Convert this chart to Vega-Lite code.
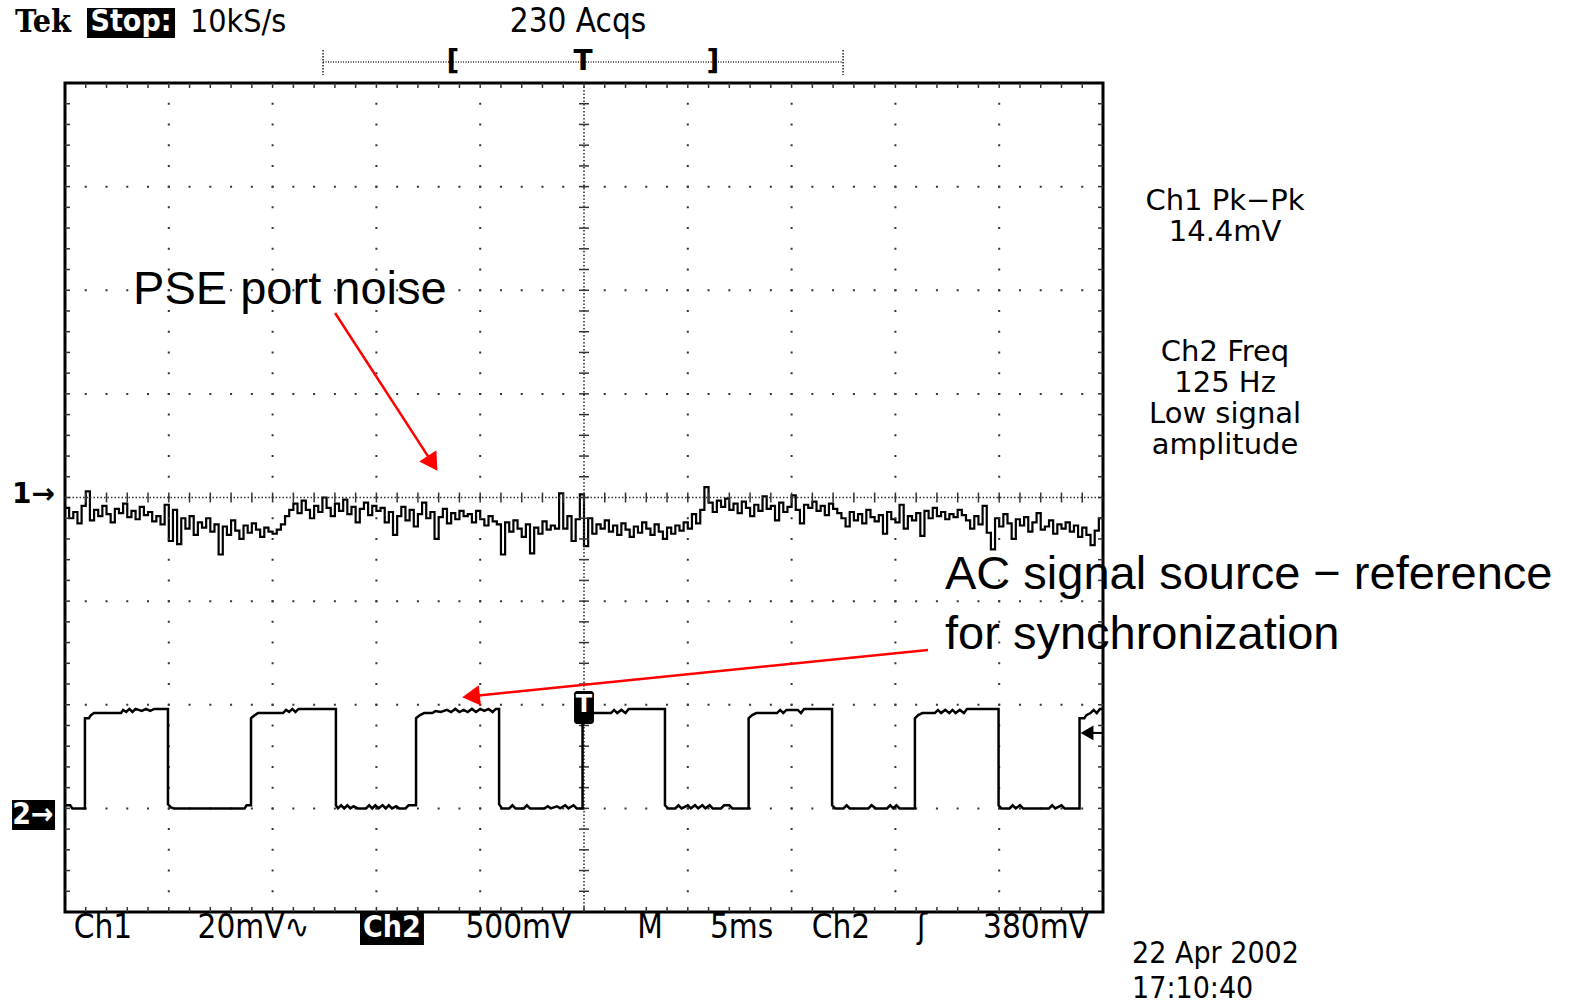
{
"$schema": "https://vega.github.io/schema/vega-lite/v6.json",
"width": 1038, "height": 829,
"autosize": "none",
"padding": {"left": 65, "top": 83, "right": 467, "bottom": 92},
"background": "white",
"config": {"view": {"stroke": "#000", "strokeWidth": 3}},
"datasets": {
"ch1": [
{"t":-25.0,"v":-0.10},{"t":-24.8,"v":-0.20},{"t":-24.6,"v":-0.14},{"t":-24.4,"v":-0.25},{"t":-24.2,"v":-0.08},{"t":-24.0,"v":0.06},{"t":-23.8,"v":-0.22},{"t":-23.6,"v":-0.12},{"t":-23.4,"v":-0.18},{"t":-23.2,"v":-0.08},
{"t":-23.0,"v":-0.16},{"t":-22.8,"v":-0.24},{"t":-22.6,"v":-0.11},{"t":-22.4,"v":-0.15},{"t":-22.2,"v":-0.06},{"t":-22.0,"v":-0.19},{"t":-21.8,"v":-0.13},{"t":-21.6,"v":-0.21},{"t":-21.4,"v":-0.09},{"t":-21.2,"v":-0.17},
{"t":-21.0,"v":-0.14},{"t":-20.8,"v":-0.23},{"t":-20.6,"v":-0.18},{"t":-20.4,"v":-0.26},{"t":-20.2,"v":-0.07},{"t":-20.0,"v":-0.42},{"t":-19.8,"v":-0.12},{"t":-19.6,"v":-0.45},{"t":-19.4,"v":-0.20},{"t":-19.2,"v":-0.30},
{"t":-19.0,"v":-0.18},{"t":-18.8,"v":-0.36},{"t":-18.6,"v":-0.24},{"t":-18.4,"v":-0.29},{"t":-18.2,"v":-0.20},{"t":-18.0,"v":-0.33},{"t":-17.8,"v":-0.26},{"t":-17.6,"v":-0.55},{"t":-17.4,"v":-0.28},{"t":-17.2,"v":-0.36},
{"t":-17.0,"v":-0.22},{"t":-16.8,"v":-0.32},{"t":-16.6,"v":-0.40},{"t":-16.4,"v":-0.27},{"t":-16.2,"v":-0.34},{"t":-16.0,"v":-0.25},{"t":-15.8,"v":-0.31},{"t":-15.6,"v":-0.38},{"t":-15.4,"v":-0.29},{"t":-15.2,"v":-0.33},
{"t":-15.0,"v":-0.35},{"t":-14.8,"v":-0.31},{"t":-14.6,"v":-0.26},{"t":-14.4,"v":-0.18},{"t":-14.2,"v":-0.12},{"t":-14.0,"v":-0.06},{"t":-13.8,"v":-0.15},{"t":-13.6,"v":-0.03},{"t":-13.4,"v":-0.12},{"t":-13.2,"v":-0.20},
{"t":-13.0,"v":-0.08},{"t":-12.8,"v":-0.14},{"t":-12.6,"v":0.00},{"t":-12.4,"v":-0.10},{"t":-12.2,"v":-0.18},{"t":-12.0,"v":-0.06},{"t":-11.8,"v":-0.13},{"t":-11.6,"v":-0.02},{"t":-11.4,"v":-0.16},{"t":-11.2,"v":-0.09},
{"t":-11.0,"v":-0.24},{"t":-10.8,"v":-0.11},{"t":-10.6,"v":-0.05},{"t":-10.4,"v":-0.17},{"t":-10.2,"v":-0.08},{"t":-10.0,"v":-0.13},{"t":-9.8,"v":-0.10},{"t":-9.6,"v":-0.24},{"t":-9.4,"v":-0.14},{"t":-9.2,"v":-0.36},
{"t":-9.0,"v":-0.18},{"t":-8.8,"v":-0.09},{"t":-8.6,"v":-0.22},{"t":-8.4,"v":-0.12},{"t":-8.2,"v":-0.28},{"t":-8.0,"v":-0.16},{"t":-7.8,"v":-0.05},{"t":-7.6,"v":-0.20},{"t":-7.4,"v":-0.14},{"t":-7.2,"v":-0.40},
{"t":-7.0,"v":-0.19},{"t":-6.8,"v":-0.11},{"t":-6.6,"v":-0.25},{"t":-6.4,"v":-0.15},{"t":-6.2,"v":-0.21},{"t":-6.0,"v":-0.13},{"t":-5.8,"v":-0.18},{"t":-5.6,"v":-0.16},{"t":-5.4,"v":-0.24},{"t":-5.2,"v":-0.13},
{"t":-5.0,"v":-0.21},{"t":-4.8,"v":-0.27},{"t":-4.6,"v":-0.18},{"t":-4.4,"v":-0.23},{"t":-4.2,"v":-0.26},{"t":-4.0,"v":-0.55},{"t":-3.8,"v":-0.24},{"t":-3.6,"v":-0.33},{"t":-3.4,"v":-0.22},{"t":-3.2,"v":-0.30},
{"t":-3.0,"v":-0.38},{"t":-2.8,"v":-0.26},{"t":-2.6,"v":-0.54},{"t":-2.4,"v":-0.29},{"t":-2.2,"v":-0.35},{"t":-2.0,"v":-0.23},{"t":-1.8,"v":-0.31},{"t":-1.6,"v":-0.27},{"t":-1.4,"v":-0.30},{"t":-1.2,"v":0.04},
{"t":-1.0,"v":-0.30},{"t":-0.8,"v":-0.18},{"t":-0.6,"v":-0.42},{"t":-0.4,"v":-0.21},{"t":-0.2,"v":0.03},{"t":0.0,"v":-0.47},{"t":0.2,"v":-0.20},{"t":0.4,"v":-0.35},{"t":0.6,"v":-0.26},{"t":0.8,"v":-0.30},
{"t":1.0,"v":-0.22},{"t":1.2,"v":-0.33},{"t":1.4,"v":-0.27},{"t":1.6,"v":-0.36},{"t":1.8,"v":-0.25},{"t":2.0,"v":-0.31},{"t":2.2,"v":-0.38},{"t":2.4,"v":-0.28},{"t":2.6,"v":-0.34},{"t":2.8,"v":-0.24},
{"t":3.0,"v":-0.30},{"t":3.2,"v":-0.36},{"t":3.4,"v":-0.26},{"t":3.6,"v":-0.33},{"t":3.8,"v":-0.40},{"t":4.0,"v":-0.29},{"t":4.2,"v":-0.35},{"t":4.4,"v":-0.27},{"t":4.6,"v":-0.32},{"t":4.8,"v":-0.24},
{"t":5.0,"v":-0.30},{"t":5.2,"v":-0.16},{"t":5.4,"v":-0.25},{"t":5.6,"v":-0.12},{"t":5.8,"v":0.10},{"t":6.0,"v":-0.05},{"t":6.2,"v":-0.14},{"t":6.4,"v":-0.03},{"t":6.6,"v":-0.09},{"t":6.8,"v":-0.01},
{"t":7.0,"v":-0.12},{"t":7.2,"v":-0.06},{"t":7.4,"v":-0.15},{"t":7.6,"v":-0.04},{"t":7.8,"v":-0.10},{"t":8.0,"v":-0.18},{"t":8.2,"v":-0.07},{"t":8.4,"v":-0.13},{"t":8.6,"v":0.01},{"t":8.8,"v":-0.11},
{"t":9.0,"v":-0.08},{"t":9.2,"v":-0.22},{"t":9.4,"v":-0.05},{"t":9.6,"v":-0.14},{"t":9.8,"v":-0.09},{"t":10.0,"v":0.02},{"t":10.2,"v":-0.12},{"t":10.4,"v":-0.25},{"t":10.6,"v":-0.07},{"t":10.8,"v":-0.10},
{"t":11.0,"v":-0.04},{"t":11.2,"v":-0.13},{"t":11.4,"v":-0.08},{"t":11.6,"v":-0.17},{"t":11.8,"v":-0.06},{"t":12.0,"v":-0.11},{"t":12.2,"v":-0.15},{"t":12.4,"v":-0.20},{"t":12.6,"v":-0.28},{"t":12.8,"v":-0.14},
{"t":13.0,"v":-0.22},{"t":13.2,"v":-0.16},{"t":13.4,"v":-0.25},{"t":13.6,"v":-0.12},{"t":13.8,"v":-0.19},{"t":14.0,"v":-0.23},{"t":14.2,"v":-0.17},{"t":14.4,"v":-0.35},{"t":14.6,"v":-0.14},{"t":14.8,"v":-0.21},
{"t":15.0,"v":-0.24},{"t":15.2,"v":-0.07},{"t":15.4,"v":-0.30},{"t":15.6,"v":-0.18},{"t":15.8,"v":-0.22},{"t":16.0,"v":-0.15},{"t":16.2,"v":-0.37},{"t":16.4,"v":-0.13},{"t":16.6,"v":-0.20},{"t":16.8,"v":-0.10},
{"t":17.0,"v":-0.18},{"t":17.2,"v":-0.14},{"t":17.4,"v":-0.21},{"t":17.6,"v":-0.16},{"t":17.8,"v":-0.19},{"t":18.0,"v":-0.12},{"t":18.2,"v":-0.17},{"t":18.4,"v":-0.22},{"t":18.6,"v":-0.30},{"t":18.8,"v":-0.18},
{"t":19.0,"v":-0.26},{"t":19.2,"v":-0.08},{"t":19.4,"v":-0.34},{"t":19.6,"v":-0.50},{"t":19.8,"v":-0.20},{"t":20.0,"v":-0.28},{"t":20.2,"v":-0.16},{"t":20.4,"v":-0.25},{"t":20.6,"v":-0.40},{"t":20.8,"v":-0.21},
{"t":21.0,"v":-0.27},{"t":21.2,"v":-0.19},{"t":21.4,"v":-0.33},{"t":21.6,"v":-0.24},{"t":21.8,"v":-0.15},{"t":22.0,"v":-0.31},{"t":22.2,"v":-0.28},{"t":22.4,"v":-0.22},{"t":22.6,"v":-0.35},{"t":22.8,"v":-0.26},
{"t":23.0,"v":-0.30},{"t":23.2,"v":-0.24},{"t":23.4,"v":-0.33},{"t":23.6,"v":-0.27},{"t":23.8,"v":-0.38},{"t":24.0,"v":-0.29},{"t":24.2,"v":-0.36},{"t":24.4,"v":-0.46},{"t":24.6,"v":-0.32},{"t":24.8,"v":-0.20},
{"t":25.0,"v":0.06}
],
"ch2": [
{"t":-25.0,"v":-2.97},{"t":-24.75,"v":-2.97},{"t":-24.65,"v":-3.0},{"t":-24.04,"v":-3.0},
{"t":-24.04,"v":-2.13},{"t":-23.85,"v":-2.13},{"t":-23.75,"v":-2.10},{"t":-23.6,"v":-2.08},{"t":-22.3,"v":-2.08},{"t":-22.2,"v":-2.05},{"t":-22.05,"v":-2.07},{"t":-21.9,"v":-2.04},{"t":-21.75,"v":-2.07},{"t":-21.6,"v":-2.04},{"t":-21.3,"v":-2.06},{"t":-21.1,"v":-2.04},{"t":-20.9,"v":-2.06},{"t":-20.7,"v":-2.04},{"t":-20.04,"v":-2.04},
{"t":-20.04,"v":-2.96},{"t":-19.9,"v":-2.99},{"t":-19.75,"v":-3.0},{"t":-16.35,"v":-3.0},{"t":-16.25,"v":-2.97},{"t":-16.04,"v":-2.97},
{"t":-16.04,"v":-2.13},{"t":-15.85,"v":-2.10},{"t":-15.7,"v":-2.08},{"t":-14.5,"v":-2.08},{"t":-14.35,"v":-2.05},{"t":-14.2,"v":-2.07},{"t":-14.05,"v":-2.04},{"t":-13.9,"v":-2.07},{"t":-13.75,"v":-2.04},{"t":-11.95,"v":-2.04},
{"t":-11.95,"v":-2.97},{"t":-11.85,"v":-3.0},{"t":-11.7,"v":-2.97},{"t":-11.55,"v":-3.0},{"t":-11.4,"v":-2.97},{"t":-11.25,"v":-3.0},{"t":-11.1,"v":-2.98},{"t":-10.9,"v":-3.0},{"t":-10.5,"v":-3.0},{"t":-10.35,"v":-2.97},{"t":-10.2,"v":-3.0},{"t":-10.05,"v":-2.97},{"t":-9.9,"v":-3.0},{"t":-9.7,"v":-2.97},{"t":-9.55,"v":-3.0},{"t":-9.4,"v":-2.97},{"t":-9.25,"v":-3.0},{"t":-9.05,"v":-2.98},{"t":-8.9,"v":-3.0},{"t":-8.6,"v":-3.0},{"t":-8.45,"v":-2.97},{"t":-8.09,"v":-2.97},
{"t":-8.09,"v":-2.13},{"t":-7.9,"v":-2.10},{"t":-7.7,"v":-2.08},{"t":-7.3,"v":-2.08},{"t":-7.15,"v":-2.06},{"t":-6.9,"v":-2.07},{"t":-6.6,"v":-2.05},{"t":-6.4,"v":-2.07},{"t":-6.2,"v":-2.04},{"t":-6.0,"v":-2.07},{"t":-5.8,"v":-2.05},{"t":-5.6,"v":-2.07},{"t":-5.4,"v":-2.04},{"t":-5.2,"v":-2.07},{"t":-5.0,"v":-2.04},{"t":-4.8,"v":-2.06},{"t":-4.6,"v":-2.04},{"t":-4.4,"v":-2.07},{"t":-4.25,"v":-2.04},{"t":-4.09,"v":-2.04},
{"t":-4.09,"v":-2.96},{"t":-3.95,"v":-3.0},{"t":-3.6,"v":-3.0},{"t":-3.45,"v":-2.97},{"t":-3.3,"v":-3.0},{"t":-2.9,"v":-3.0},{"t":-2.75,"v":-2.97},{"t":-2.6,"v":-3.0},{"t":-1.9,"v":-3.0},{"t":-1.75,"v":-2.98},{"t":-1.6,"v":-3.0},{"t":-1.3,"v":-2.98},{"t":-1.15,"v":-3.0},{"t":-0.9,"v":-2.97},{"t":-0.75,"v":-3.0},{"t":-0.5,"v":-2.97},{"t":-0.35,"v":-3.0},{"t":-0.07,"v":-3.0},
{"t":-0.07,"v":-2.10},{"t":0.3,"v":-2.10},{"t":0.45,"v":-2.08},{"t":1.3,"v":-2.08},{"t":1.45,"v":-2.05},{"t":1.6,"v":-2.08},{"t":1.8,"v":-2.05},{"t":2.0,"v":-2.08},{"t":2.15,"v":-2.04},{"t":3.9,"v":-2.04},
{"t":3.9,"v":-2.97},{"t":4.05,"v":-3.0},{"t":4.4,"v":-3.0},{"t":4.55,"v":-2.97},{"t":4.7,"v":-3.0},{"t":5.0,"v":-2.97},{"t":5.15,"v":-3.0},{"t":5.35,"v":-2.97},{"t":5.5,"v":-3.0},{"t":5.7,"v":-2.97},{"t":5.85,"v":-3.0},{"t":6.05,"v":-2.97},{"t":6.2,"v":-3.0},{"t":6.6,"v":-3.0},{"t":6.75,"v":-2.97},{"t":7.0,"v":-2.97},{"t":7.15,"v":-3.0},{"t":7.93,"v":-3.0},
{"t":7.93,"v":-2.13},{"t":8.1,"v":-2.10},{"t":8.3,"v":-2.08},{"t":9.3,"v":-2.08},{"t":9.45,"v":-2.05},{"t":9.6,"v":-2.08},{"t":9.75,"v":-2.05},{"t":10.3,"v":-2.05},{"t":10.45,"v":-2.08},{"t":10.6,"v":-2.04},{"t":11.95,"v":-2.04},
{"t":11.95,"v":-2.97},{"t":12.1,"v":-3.0},{"t":12.5,"v":-3.0},{"t":12.65,"v":-2.97},{"t":12.8,"v":-3.0},{"t":13.7,"v":-3.0},{"t":13.85,"v":-2.97},{"t":14.05,"v":-3.0},{"t":14.6,"v":-3.0},{"t":14.75,"v":-2.97},{"t":14.9,"v":-3.0},{"t":15.05,"v":-2.97},{"t":15.2,"v":-3.0},{"t":15.94,"v":-3.0},
{"t":15.94,"v":-2.13},{"t":16.1,"v":-2.10},{"t":16.3,"v":-2.08},{"t":16.9,"v":-2.08},{"t":17.05,"v":-2.05},{"t":17.2,"v":-2.08},{"t":17.4,"v":-2.05},{"t":17.6,"v":-2.08},{"t":17.75,"v":-2.05},{"t":17.9,"v":-2.08},{"t":18.1,"v":-2.05},{"t":18.3,"v":-2.08},{"t":18.45,"v":-2.04},{"t":19.97,"v":-2.04},
{"t":19.97,"v":-2.97},{"t":20.1,"v":-3.0},{"t":20.5,"v":-3.0},{"t":20.65,"v":-2.97},{"t":20.8,"v":-3.0},{"t":21.0,"v":-2.97},{"t":21.15,"v":-3.0},{"t":22.4,"v":-3.0},{"t":22.55,"v":-2.97},{"t":22.7,"v":-3.0},{"t":23.0,"v":-2.97},{"t":23.15,"v":-3.0},{"t":23.87,"v":-3.0},
{"t":23.87,"v":-2.13},{"t":24.1,"v":-2.13},{"t":24.2,"v":-2.10},{"t":24.4,"v":-2.08},{"t":24.55,"v":-2.05},{"t":24.7,"v":-2.08},{"t":24.85,"v":-2.04},{"t":25.0,"v":-2.04}
],
"xg": [{"t":-20},{"t":-15},{"t":-10},{"t":-5},{"t":5},{"t":10},{"t":15},{"t":20}],
"yg": [{"v":-3},{"v":-2},{"v":-1},{"v":1},{"v":2},{"v":3}],
"xt": [{"t":-24},{"t":-23},{"t":-22},{"t":-21},{"t":-20},{"t":-19},{"t":-18},{"t":-17},{"t":-16},{"t":-15},{"t":-14},{"t":-13},{"t":-12},{"t":-11},{"t":-10},{"t":-9},{"t":-8},{"t":-7},{"t":-6},{"t":-5},{"t":-4},{"t":-3},{"t":-2},{"t":-1},{"t":0},{"t":1},{"t":2},{"t":3},{"t":4},{"t":5},{"t":6},{"t":7},{"t":8},{"t":9},{"t":10},{"t":11},{"t":12},{"t":13},{"t":14},{"t":15},{"t":16},{"t":17},{"t":18},{"t":19},{"t":20},{"t":21},{"t":22},{"t":23},{"t":24}],
"yt": [{"v":-3.8},{"v":-3.6},{"v":-3.4},{"v":-3.2},{"v":-3.0},{"v":-2.8},{"v":-2.6},{"v":-2.4},{"v":-2.2},{"v":-2.0},{"v":-1.8},{"v":-1.6},{"v":-1.4},{"v":-1.2},{"v":-1.0},{"v":-0.8},{"v":-0.6},{"v":-0.4},{"v":-0.2},{"v":0},{"v":0.2},{"v":0.4},{"v":0.6},{"v":0.8},{"v":1.0},{"v":1.2},{"v":1.4},{"v":1.6},{"v":1.8},{"v":2.0},{"v":2.2},{"v":2.4},{"v":2.6},{"v":2.8},{"v":3.0},{"v":3.2},{"v":3.4},{"v":3.6},{"v":3.8}]
},
"layer": [
{"data": {"name": "ch1"},
 "mark": {"type": "line", "stroke": "#000", "strokeWidth": 2.2, "interpolate": "step-after"},
 "encoding": {
  "x": {"field": "t", "type": "quantitative", "scale": {"domain": [-25, 25], "nice": false, "zero": false}, "axis": null},
  "y": {"field": "v", "type": "quantitative", "scale": {"domain": [-4, 4], "nice": false, "zero": false}, "axis": null}
 }},
{"data": {"name": "xg"}, "mark": {"type": "rule", "stroke": "#333", "strokeWidth": 2, "strokeDash": [2, 18.725], "strokeDashOffset": 1}, "encoding": {"x": {"field": "t", "type": "quantitative", "axis": null}}},
{"data": {"name": "yg"}, "mark": {"type": "rule", "stroke": "#333", "strokeWidth": 2, "strokeDash": [2, 18.76], "strokeDashOffset": 1}, "encoding": {"y": {"field": "v", "type": "quantitative", "axis": null}}},
{"data": {"values": [{}]}, "mark": {"type": "rule", "stroke": "#333", "strokeWidth": 1.6, "strokeDash": [1.5, 2]}, "encoding": {"x": {"datum": 0, "axis": null}}},
{"data": {"values": [{}]}, "mark": {"type": "rule", "stroke": "#333", "strokeWidth": 1.6, "strokeDash": [1.5, 2]}, "encoding": {"y": {"datum": 0, "axis": null}}},
{"data": {"name": "xt"}, "mark": {"type": "rule", "stroke": "#333", "strokeWidth": 1.5}, "encoding": {"x": {"field": "t", "type": "quantitative", "axis": null}, "y": {"datum": 4, "axis": null}, "y2": {"datum": 3.952}}},
{"data": {"name": "xt"}, "mark": {"type": "rule", "stroke": "#333", "strokeWidth": 1.5}, "encoding": {"x": {"field": "t", "type": "quantitative", "axis": null}, "y": {"datum": -4, "axis": null}, "y2": {"datum": -3.952}}},
{"data": {"name": "xt"}, "mark": {"type": "rule", "stroke": "#333", "strokeWidth": 1.5}, "encoding": {"x": {"field": "t", "type": "quantitative", "axis": null}, "y": {"datum": 0.048, "axis": null}, "y2": {"datum": -0.048}}},
{"data": {"name": "yt"}, "mark": {"type": "rule", "stroke": "#333", "strokeWidth": 1.5}, "encoding": {"y": {"field": "v", "type": "quantitative", "axis": null}, "x": {"datum": -25, "axis": null}, "x2": {"datum": -24.76}}},
{"data": {"name": "yt"}, "mark": {"type": "rule", "stroke": "#333", "strokeWidth": 1.5}, "encoding": {"y": {"field": "v", "type": "quantitative", "axis": null}, "x": {"datum": 25, "axis": null}, "x2": {"datum": 24.76}}},
{"data": {"name": "yt"}, "mark": {"type": "rule", "stroke": "#333", "strokeWidth": 1.5}, "encoding": {"y": {"field": "v", "type": "quantitative", "axis": null}, "x": {"datum": -0.24, "axis": null}, "x2": {"datum": 0.24}}},
{"data": {"name": "ch2"},
 "mark": {"type": "line", "stroke": "#000", "strokeWidth": 2.5},
 "encoding": {"x": {"field": "t", "type": "quantitative", "axis": null}, "y": {"field": "v", "type": "quantitative", "axis": null}, "order": {"value": null}}},
{"data": {"values": [{"t": -0.48, "t2": 0.48, "v": -1.867, "v2": -2.186}]},
 "mark": {"type": "rect", "fill": "#000", "cornerRadius": 3},
 "encoding": {"x": {"field": "t", "type": "quantitative", "axis": null}, "x2": {"field": "t2"}, "y": {"field": "v", "type": "quantitative", "axis": null}, "y2": {"field": "v2"}}},
{"data": {"values": [{"t": 0, "v": -2.0, "text": "T"}]},
 "mark": {"type": "text", "fill": "#fff", "font": "DejaVu Sans", "fontWeight": "bold", "fontSize": 24, "align": "center", "baseline": "middle"},
 "encoding": {"x": {"field": "t", "type": "quantitative", "axis": null}, "y": {"field": "v", "type": "quantitative", "axis": null}, "text": {"field": "text"}}},
{"data": {"values": [{"t": 24.23, "v": -2.272}]},
 "mark": {"type": "point", "shape": "triangle-left", "filled": true, "fill": "#000", "opacity": 1, "size": 220},
 "encoding": {"x": {"field": "t", "type": "quantitative", "axis": null}, "y": {"field": "v", "type": "quantitative", "axis": null}}},
{"data": {"values": [{"t": 24.4, "t2": 25, "v": -2.272}]},
 "mark": {"type": "rule", "stroke": "#000", "strokeWidth": 2},
 "encoding": {"x": {"field": "t", "type": "quantitative", "axis": null}, "x2": {"field": "t2"}, "y": {"field": "v", "type": "quantitative", "axis": null}}},
{"data": {"values": [{"t": -23.94, "t2": -19.70, "v": 4.724, "v2": 4.434}, {"t": -10.79, "t2": -7.71, "v": -4.0, "v2": -4.318}, {"t": -27.55, "t2": -25.48, "v": -2.919, "v2": -3.209}]},
 "mark": {"type": "rect", "fill": "#000"},
 "encoding": {"x": {"field": "t", "type": "quantitative", "axis": null}, "x2": {"field": "t2"}, "y": {"field": "v", "type": "quantitative", "axis": null}, "y2": {"field": "v2"}}},
{"data": {"values": [{"t": -27.41, "v": 4.589, "text": "Tek"}]},
 "mark": {"type": "text", "fill": "#000", "font": "DejaVu Serif Condensed, DejaVu Serif", "fontWeight": "bold", "fontSize": 32, "align": "left", "baseline": "middle"},
 "encoding": {"x": {"field": "t", "type": "quantitative", "axis": null}, "y": {"field": "v", "type": "quantitative", "axis": null}, "text": {"field": "text"}}},
{"data": {"values": [{"t": -21.82, "v": 4.589, "text": "Stop:"}, {"t": -9.25, "v": -4.154, "text": "Ch2"}, {"t": -26.54, "v": -3.064, "text": "2→"}]},
 "mark": {"type": "text", "fill": "#fff", "font": "DejaVu Sans Condensed, DejaVu Sans", "fontWeight": "bold", "fontSize": 30, "align": "center", "baseline": "middle"},
 "encoding": {"x": {"field": "t", "type": "quantitative", "axis": null}, "y": {"field": "v", "type": "quantitative", "axis": null}, "text": {"field": "text"}}},
{"data": {"values": [{"t": -18.98, "v": 4.589, "text": "10kS/s"}]},
 "mark": {"type": "text", "fill": "#000", "font": "DejaVu Sans Condensed, DejaVu Sans", "fontSize": 32, "align": "left", "baseline": "middle"},
 "encoding": {"x": {"field": "t", "type": "quantitative", "axis": null}, "y": {"field": "v", "type": "quantitative", "axis": null}, "text": {"field": "text"}}},
{"data": {"values": [{"t": -0.29, "v": 4.589, "text": "230 Acqs"}, {"t": -23.17, "v": -4.154, "text": "Ch1"}, {"t": -15.92, "v": -4.154, "text": "20mV∿"}, {"t": -3.16, "v": -4.154, "text": "500mV"}, {"t": 3.18, "v": -4.154, "text": "M"}, {"t": 7.59, "v": -4.154, "text": "5ms"}, {"t": 12.38, "v": -4.154, "text": "Ch2"}, {"t": 16.28, "v": -4.154, "text": "ʃ"}, {"t": 21.77, "v": -4.154, "text": "380mV"}]},
 "mark": {"type": "text", "fill": "#000", "font": "DejaVu Sans Condensed, DejaVu Sans", "fontSize": 33, "align": "center", "baseline": "middle"},
 "encoding": {"x": {"field": "t", "type": "quantitative", "axis": null}, "y": {"field": "v", "type": "quantitative", "axis": null}, "text": {"field": "text"}}},
{"data": {"values": [{"t": 26.40, "v": -4.41, "text": "22 Apr 2002"}, {"t": 26.40, "v": -4.74, "text": "17:10:40"}]},
 "mark": {"type": "text", "fill": "#000", "font": "DejaVu Sans Condensed, DejaVu Sans", "fontSize": 30, "align": "left", "baseline": "middle"},
 "encoding": {"x": {"field": "t", "type": "quantitative", "axis": null}, "y": {"field": "v", "type": "quantitative", "axis": null}, "text": {"field": "text"}}},
{"data": {"values": [{"t": -12.57, "t2": 12.48, "v": 4.203}]},
 "mark": {"type": "rule", "stroke": "#222", "strokeWidth": 1.5, "strokeDash": [1, 1.5]},
 "encoding": {"x": {"field": "t", "type": "quantitative", "axis": null}, "x2": {"field": "t2"}, "y": {"field": "v", "type": "quantitative", "axis": null}}},
{"data": {"values": [{"t": -12.57, "v": 4.318, "v2": 4.077}, {"t": 12.48, "v": 4.318, "v2": 4.077}]},
 "mark": {"type": "rule", "stroke": "#222", "strokeWidth": 1.5, "strokeDash": [1.5, 1.5]},
 "encoding": {"x": {"field": "t", "type": "quantitative", "axis": null}, "y": {"field": "v", "type": "quantitative", "axis": null}, "y2": {"field": "v2"}}},
{"data": {"values": [{"t": -6.31, "v": 4.2, "text": "["}, {"t": 6.21, "v": 4.2, "text": "]"}, {"t": -0.05, "v": 4.2, "text": "T"}]},
 "mark": {"type": "text", "fill": "#000", "font": "DejaVu Sans", "fontWeight": "bold", "fontSize": 28, "align": "center", "baseline": "middle"},
 "encoding": {"x": {"field": "t", "type": "quantitative", "axis": null}, "y": {"field": "v", "type": "quantitative", "axis": null}, "text": {"field": "text"}}},
{"data": {"values": [{"t": 30.88, "v": 2.861, "text": "Ch1 Pk−Pk"}, {"t": 30.88, "v": 2.562, "text": "14.4mV"}, {"t": 30.88, "v": 1.404, "text": "Ch2 Freq"}, {"t": 30.88, "v": 1.105, "text": "125 Hz"}, {"t": 30.88, "v": 0.806, "text": "Low signal"}, {"t": 30.88, "v": 0.507, "text": "amplitude"}]},
 "mark": {"type": "text", "fill": "#000", "font": "DejaVu Sans", "fontSize": 29, "align": "center", "baseline": "middle"},
 "encoding": {"x": {"field": "t", "type": "quantitative", "axis": null}, "y": {"field": "v", "type": "quantitative", "axis": null}, "text": {"field": "text"}}},
{"data": {"values": [{"t": -25.48, "v": 0.024, "text": "1→"}]},
 "mark": {"type": "text", "fill": "#000", "font": "DejaVu Sans", "fontWeight": "bold", "fontSize": 28, "align": "right", "baseline": "middle"},
 "encoding": {"x": {"field": "t", "type": "quantitative", "axis": null}, "y": {"field": "v", "type": "quantitative", "axis": null}, "text": {"field": "text"}}},
{"data": {"values": [{"t": -21.72, "v": 2.002, "text": "PSE port noise"}, {"t": 17.39, "v": -0.748, "text": "AC signal source − reference"}, {"t": 17.39, "v": -1.327, "text": "for synchronization"}]},
 "mark": {"type": "text", "fill": "#000", "font": "Liberation Sans", "fontSize": 47, "align": "left", "baseline": "middle"},
 "encoding": {"x": {"field": "t", "type": "quantitative", "axis": null}, "y": {"field": "v", "type": "quantitative", "axis": null}, "text": {"field": "text"}}},
{"data": {"values": [{"t": -11.99, "v": 1.78, "t2": -7.37, "v2": 0.354}, {"t": 16.57, "v": -1.472, "t2": -5.30, "v2": -1.915}]},
 "mark": {"type": "rule", "stroke": "#f00", "strokeWidth": 2.5},
 "encoding": {"x": {"field": "t", "type": "quantitative", "axis": null}, "x2": {"field": "t2"}, "y": {"field": "v", "type": "quantitative", "axis": null}, "y2": {"field": "v2"}}},
{"data": {"values": [{"t": -7.37, "v": 0.354}]},
 "mark": {"type": "point", "shape": "triangle", "filled": true, "fill": "#f00", "opacity": 1, "size": 420, "angle": 147},
 "encoding": {"x": {"field": "t", "type": "quantitative", "axis": null}, "y": {"field": "v", "type": "quantitative", "axis": null}}},
{"data": {"values": [{"t": -5.30, "v": -1.915}]},
 "mark": {"type": "point", "shape": "triangle", "filled": true, "fill": "#f00", "opacity": 1, "size": 420, "angle": 264},
 "encoding": {"x": {"field": "t", "type": "quantitative", "axis": null}, "y": {"field": "v", "type": "quantitative", "axis": null}}}
]
}
